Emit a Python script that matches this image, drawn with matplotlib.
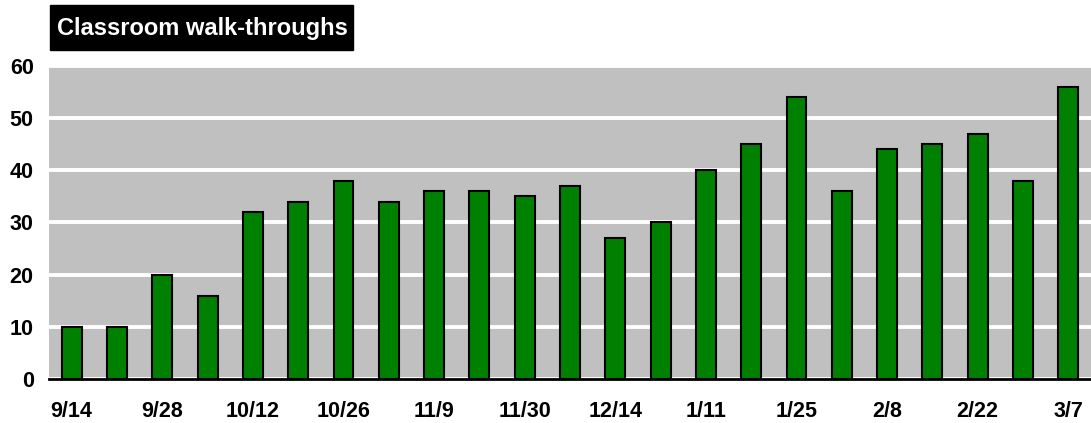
import matplotlib.pyplot as plt
from matplotlib.patches import Rectangle

dates = ["9/14", "9/21", "9/28", "10/5", "10/12", "10/19", "10/26", "11/2",
         "11/9", "11/16", "11/30", "12/7", "12/14", "1/4", "1/11", "1/18",
         "1/25", "2/1", "2/8", "2/15", "2/22", "3/1", "3/7"]
walks = [10, 10, 20, 16, 32, 34, 38, 34, 36, 36, 35, 37, 27, 30, 40, 45,
         54, 36, 44, 45, 47, 38, 56]

plt.rcParams['font.family'] = ['Liberation Sans', 'DejaVu Sans']

fig = plt.figure(figsize=(10.91, 4.23), dpi=100)
ax = fig.add_axes([49/1091, 1 - 379/423, 1 - 49/1091, (379 - 66)/423])
ax.set_facecolor('#c0c0c0')

x = list(range(len(walks)))
ax.bar(x, walks, width=0.44, color='#008000', edgecolor='black', linewidth=1.5, zorder=3)

ax.set_ylim(0, 60)
ax.set_xlim(-0.5, len(walks) - 0.5)
ax.set_yticks(range(0, 61, 10))
ax.yaxis.grid(True, color='white', linewidth=2.8, zorder=1)
ax.set_xticks(x[::2])
ax.set_xticklabels(dates[::2])
ax.tick_params(length=0, labelsize=15.5)
for lab in ax.get_xticklabels() + ax.get_yticklabels():
    lab.set_fontweight('bold')
ax.tick_params(axis='x', pad=16)
ax.tick_params(axis='y', pad=11)

for s in ['top', 'right', 'left']:
    ax.spines[s].set_visible(False)
ax.spines['bottom'].set_linewidth(2)
ax.spines['bottom'].set_zorder(4)

fig.patches.append(Rectangle((50/1091, 1 - 50/423), 303/1091, 45/423,
                             transform=fig.transFigure, color='black'))
fig.text(57/1091, 1 - 28/423, "Classroom walk-throughs", color='white',
         fontsize=17, fontweight='bold', va='center', ha='left')

fig.savefig('out.png', dpi=100)
